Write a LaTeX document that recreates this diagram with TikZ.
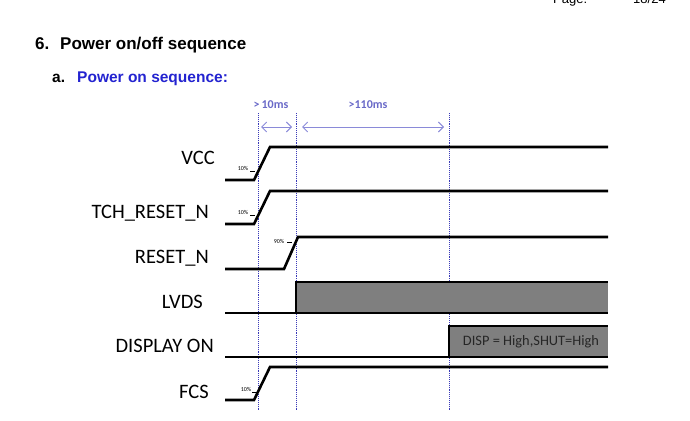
\documentclass[tikz,border=0pt]{standalone}
\usepackage{fontspec}
\setmainfont{Liberation Sans}
\newfontfamily\calib{Carlito}
\usetikzlibrary{arrows.meta}
\definecolor{dotblue}{HTML}{3A3AB8}
\definecolor{arrblue}{HTML}{8A8AD8}
\definecolor{tblue}{HTML}{6A6AC8}
\definecolor{headblue}{HTML}{2323D0}
\definecolor{boxgray}{HTML}{7F7F7F}
\tikzset{
  sig/.style={line width=2.6pt, line join=miter},
  siglabel/.style={anchor=east, font=\calib\fontsize{20.5}{20.5}\selectfont, inner sep=0pt},
  pct/.style={font=\calib\fontsize{6}{6}\selectfont, inner sep=0pt},
  vdot/.style={dotblue, densely dotted, line width=0.9pt},
  tarr/.style={arrblue, line width=0.9pt, {Straight Barb[length=5pt,width=10pt]}-{Straight Barb[length=5pt,width=10pt]}},
  tlabel/.style={font=\calib\bfseries\fontsize{12}{12}\selectfont, text=tblue, inner sep=0pt}
}
\begin{document}
\begin{tikzpicture}[x=1pt,y=-1pt]
\useasboundingbox (0,0) rectangle (690,420);
% header
\node[anchor=base west, inner sep=0pt, font=\fontsize{13}{13}\selectfont] (pg) at (553,4) {Page:};
\node[anchor=base west, inner sep=0pt, font=\fontsize{13}{13}\selectfont] (pn) at (633,4) {18/24};
\node[anchor=base west, inner sep=0pt, font=\bfseries\fontsize{17}{17}\selectfont] (t6) at (35,50) {6.};
\node[anchor=base west, inner sep=0pt, font=\bfseries\fontsize{17}{17}\selectfont] (t6b) at (60,50) {Power on/off sequence};
\node[anchor=base west, inner sep=0pt, font=\bfseries\fontsize{15.5}{15.5}\selectfont] (ta) at (52,82) {a.};
\node[anchor=base west, inner sep=0pt, font=\bfseries\fontsize{15.5}{15.5}\selectfont, text=headblue] (tab) at (77,82) {Power on sequence:};

% vertical dotted lines
\coordinate (v1t) at (258,113); \coordinate (v1b) at (258,410);
\coordinate (v2t) at (296,113); \coordinate (v2b) at (296,410);
\coordinate (v3t) at (449,113); \coordinate (v3b) at (449,410);
\draw[vdot] (v1t) -- (v1b);
\draw[vdot] (v2t) -- (v2b);
\draw[vdot] (v3t) -- (v3b);

% timing arrows
\coordinate (a1l) at (261,127); \coordinate (a1r) at (292,127);
\coordinate (a2l) at (302,127); \coordinate (a2r) at (444,127);
\draw[tarr] (a1l) -- (a1r);
\draw[tarr] (a2l) -- (a2r);
\node[tlabel] (l10) at (271,105) {>\,10ms};
\node[tlabel] (l110) at (368,105) {>110ms};

% labels
\node[siglabel] (nvcc) at (215,158) {VCC};
\node[siglabel] (ntch) at (209,213) {TCH\_RESET\_N};
\node[siglabel] (nrst) at (209,258) {RESET\_N};
\node[siglabel] (nlvds) at (203,302) {LVDS};
\node[siglabel] (ndisp) at (214,346) {DISPLAY ON};
\node[siglabel] (nfcs) at (209,392) {FCS};

% LVDS box (drawn first)
\fill[boxgray] (296,282) rectangle (608,313);
% DISPLAY ON box
\fill[boxgray] (449,326) rectangle (608,357);
\node[font=\calib\fontsize{14.4}{14.4}\selectfont, text=black!85, inner sep=0pt] (dtxt) at (531,342) {DISP = High,SHUT=High};

% signals
\draw[sig] (225,180) -- (254,180) -- (270,147) -- (608,147);
\draw[sig] (225,224) -- (254,224) -- (270,191) -- (608,191);
\draw[sig] (225,269) -- (284,269) -- (298,237) -- (608,237);
\draw[sig] (225,313) -- (608,313);
\draw[sig] (296,313) -- (296,282) -- (608,282);
\draw[sig] (225,357) -- (608,357);
\draw[sig] (449,357) -- (449,326) -- (608,326);
\draw[sig] (225,400) -- (254,400) -- (270,367) -- (608,367);

% percentage marks
\node[pct] (p1) at (243,168) {10\%};
\draw[line width=0.6pt] (250,171) -- (255,171);
\node[pct] (p2) at (243,212) {10\%};
\draw[line width=0.6pt] (250,215) -- (255,215);
\node[pct] (p3) at (279,241) {90\%};
\draw[line width=0.6pt] (287,242) -- (292,242);
\node[pct] (p4) at (246,389) {10\%};
\draw[line width=0.6pt] (252,392) -- (257,392);
\end{tikzpicture}
\end{document}
